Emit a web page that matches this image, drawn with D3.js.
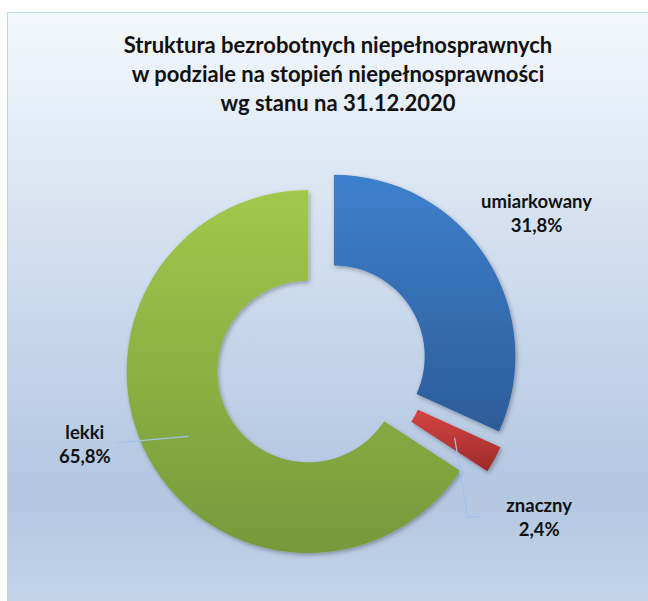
<!DOCTYPE html>
<html>
<head>
<meta charset="utf-8">
<script src="https://cdn.jsdelivr.net/npm/d3@7"></script>
<style>
    body { margin: 0; background: #fff; }
    text { font-family: Lato, Calibri, sans-serif; font-weight: bold; fill: #111; }
</style>
</head>
<body>
<div id="chart"></div>
<script>
// data
const categories = ['umiarkowany', 'znaczny', 'lekki'];
const shares = [31.8, 2.4, 65.8];
const titleLines = [
    'Struktura bezrobotnych niepełnosprawnych',
    'w podziale na stopień niepełnosprawności',
    'wg stanu na 31.12.2020'
];

const width = 648;
const height = 601;

// slice styling: gradient top/bottom, explode distance
const sliceStyle = [
    { top: '#3e80cd', bottom: '#2c5c98', explode: 15 },
    { top: '#d64442', bottom: '#9c2a2a', explode: 16 },
    { top: '#a0c94c', bottom: '#76993a', explode: 15 }
];
// label placement: angle shift (deg) from slice middle, radius from centre
const labelPlace = [
    { dAngle: -2, r: 262 },
    { dAngle: 6.5, r: 267 },
    { dAngle: 9.5, r: 250 }
];

const svg = d3.select('#chart')
    .append('svg')
    .attr('width', width)
    .attr('height', height);

const defs = svg.append('defs');

const bg = defs.append('linearGradient')
    .attr('id', 'bg')
    .attr('x1', 0).attr('y1', 0).attr('x2', 0).attr('y2', 1);
[[0, '#f4f8fc'], [0.5, '#c9d8ec'], [0.8, '#b3c7e1'], [1, '#c4d5e9']].forEach(s => {
    bg.append('stop').attr('offset', s[0]).attr('stop-color', s[1]);
});

sliceStyle.forEach((s, i) => {
    const g = defs.append('linearGradient')
        .attr('id', `slice${i}`)
        .attr('x1', 0).attr('y1', 0).attr('x2', 0).attr('y2', 1);
    g.append('stop').attr('offset', 0).attr('stop-color', s.top);
    g.append('stop').attr('offset', 1).attr('stop-color', s.bottom);
});

const shadow = defs.append('filter')
    .attr('id', 'shadow')
    .attr('x', '-20%').attr('y', '-20%').attr('width', '140%').attr('height', '140%');
shadow.append('feDropShadow')
    .attr('dx', 1.5).attr('dy', 2)
    .attr('stdDeviation', 2)
    .attr('flood-color', '#000')
    .attr('flood-opacity', 0.3);

// frame
svg.append('rect')
    .attr('x', 7.5)
    .attr('y', 12.5)
    .attr('width', width)
    .attr('height', height)
    .attr('fill', 'url(#bg)')
    .attr('stroke', '#bcd6ee');

// title
svg.append('g')
    .selectAll('text')
    .data(titleLines)
    .enter()
    .append('text')
    .attr('x', 338)
    .attr('y', (d, i) => 53 + i * 29)
    .attr('text-anchor', 'middle')
    .style('font-size', '22px')
    .text(d => d);

// donut
const cx = 321.3;
const cy = 364.4;
const outerR = 181.5;
const innerR = outerR * 0.5;

const pie = d3.pie().sort(null).value(d => d);
const arcs = pie(shares);

const arc = d3.arc()
    .innerRadius(innerR)
    .outerRadius(outerR);

const chart = svg.append('g')
    .attr('transform', `translate(${cx}, ${cy})`);

const midAngle = d => (d.startAngle + d.endAngle) / 2;
const shift = (d, i) => {
    const a = midAngle(d);
    const e = sliceStyle[i].explode;
    return [e * Math.sin(a), -e * Math.cos(a)];
};

chart.selectAll('path.slice')
    .data(arcs)
    .enter()
    .append('path')
    .attr('class', 'slice')
    .attr('transform', (d, i) => `translate(${shift(d, i)})`)
    .attr('d', arc)
    .attr('fill', (d, i) => `url(#slice${i})`)
    .attr('filter', 'url(#shadow)');

// labels
const fmt = v => d3.format('.1f')(v).replace('.', ',') + '%';
const labelPos = (d, i) => {
    const a = midAngle(d) + labelPlace[i].dAngle * Math.PI / 180;
    const r = labelPlace[i].r;
    return [r * Math.sin(a), -r * Math.cos(a)];
};

// leader lines for lekki and znaczny
const leaderColor = '#9fc3ea';
const centroidOf = (d, i) => {
    const c = arc.centroid(d);
    const s = shift(d, i);
    return [c[0] + s[0], c[1] + s[1]];
};

// lekki
{
    const i = 2;
    const c = centroidOf(arcs[i], i);
    const p = labelPos(arcs[i], i);
    chart.append('path')
        .attr('d', d3.line()([c, [p[0] + 33, p[1] - 3]]))
        .attr('fill', 'none')
        .attr('stroke', leaderColor)
        .attr('stroke-width', 1.2);
}
// znaczny
{
    const i = 1;
    const c = centroidOf(arcs[i], i);
    const p = labelPos(arcs[i], i);
    chart.append('path')
        .attr('d', d3.line()([c, [c[0] + 13, p[1] - 2], [p[0] - 60, p[1] - 2]]))
        .attr('fill', 'none')
        .attr('stroke', leaderColor)
        .attr('stroke-width', 1.2);
}

const labels = chart.selectAll('g.label')
    .data(arcs)
    .enter()
    .append('g')
    .attr('class', 'label')
    .attr('transform', (d, i) => `translate(${labelPos(d, i)})`);

labels.append('text')
    .attr('text-anchor', 'middle')
    .attr('y', -7)
    .style('font-size', '18.5px')
    .text((d, i) => categories[i]);

labels.append('text')
    .attr('text-anchor', 'middle')
    .attr('y', 17)
    .style('font-size', '18.5px')
    .text(d => fmt(d.data));
</script>
</body>
</html>
